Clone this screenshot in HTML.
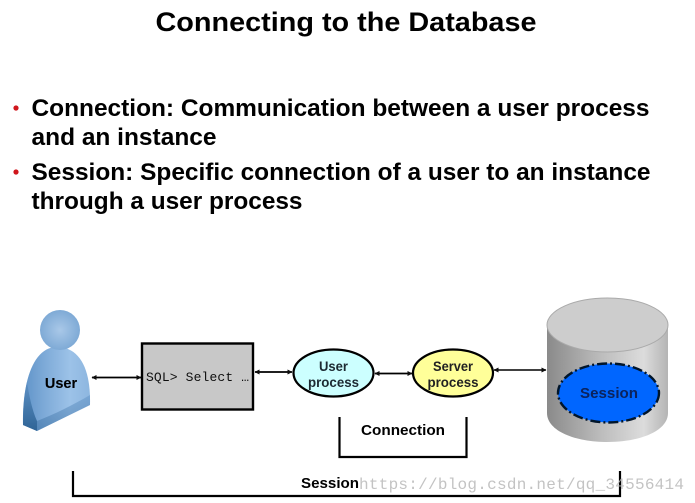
<!DOCTYPE html>
<html><head><meta charset="utf-8"><style>
html,body{margin:0;padding:0;background:#fff;width:695px;height:503px;overflow:hidden}
svg{display:block}
text{font-family:"Liberation Sans",Arial,sans-serif}
</style></head><body>
<svg width="695" height="503" viewBox="0 0 695 503" xmlns="http://www.w3.org/2000/svg">
<defs>
<filter id="b" x="-5%" y="-5%" width="110%" height="110%"><feGaussianBlur stdDeviation="0.3"/></filter>
<radialGradient id="head" cx="0.5" cy="0.5" r="0.6"><stop offset="0" stop-color="#a9c8e8"/><stop offset="1" stop-color="#76a4d2"/></radialGradient>
<linearGradient id="bodyG" x1="0" y1="0" x2="1" y2="0"><stop offset="0" stop-color="#5f93c8"/><stop offset="0.35" stop-color="#80acd9"/><stop offset="0.7" stop-color="#9cc2e8"/><stop offset="1" stop-color="#8db6df"/></linearGradient>
<linearGradient id="edge" x1="0" y1="0" x2="0" y2="1"><stop offset="0" stop-color="#5d90c4"/><stop offset="1" stop-color="#2f6496"/></linearGradient>
<linearGradient id="cyl" x1="0" y1="0" x2="1" y2="0"><stop offset="0" stop-color="#8a8a8a"/><stop offset="0.45" stop-color="#bdbdbd"/><stop offset="0.8" stop-color="#dcdcdc"/><stop offset="1" stop-color="#b4b4b4"/></linearGradient>
<marker id="a" markerWidth="5" markerHeight="6" refX="4.5" refY="3" orient="auto-start-reverse" markerUnits="userSpaceOnUse"><path d="M0,0.5L5,3L0,5.5Z" fill="#111"/></marker>
</defs>
<g filter="url(#b)">
<text x="346" y="31" font-size="27" font-weight="700" text-anchor="middle" textLength="381" lengthAdjust="spacingAndGlyphs" fill="#000">Connecting to the Database</text>
<circle cx="16" cy="108" r="2.6" fill="#d0121b"/>
<circle cx="16" cy="172" r="2.6" fill="#d0121b"/>
<g font-size="24" font-weight="700" fill="#000">
<text x="31.5" y="116" textLength="618" lengthAdjust="spacingAndGlyphs">Connection: Communication between a user process</text>
<text x="31.5" y="145" textLength="185" lengthAdjust="spacingAndGlyphs">and an instance</text>
<text x="31.5" y="180" textLength="619" lengthAdjust="spacingAndGlyphs">Session: Specific connection of a user to an instance</text>
<text x="31.5" y="209" textLength="271" lengthAdjust="spacingAndGlyphs">through a user process</text>
</g>
<!-- user -->
<path d="M23,425 C22,385 32,347 57,347 C78,347 91,366 90,405 L37,431 Z" fill="url(#bodyG)"/>
<path d="M23,425 C23,410 24,395 27,382 C29,395 32,410 37,421 L37,431 Z" fill="url(#edge)"/>
<path d="M37,421 C55,414 73,405 90,395 L90,405 L37,431 Z" fill="url(#edge)" opacity="0.45"/>
<circle cx="60" cy="330" r="20" fill="url(#head)"/>
<text x="61" y="388" font-size="14.5" font-weight="700" text-anchor="middle" fill="#000" stroke="#000" stroke-width="0.1">User</text>
<!-- sql box -->
<rect x="142" y="343.5" width="111" height="66" fill="#c8c8c8" stroke="#000" stroke-width="2.4"/>
<text x="146" y="381" font-size="13" style="font-family:'Liberation Mono',monospace" fill="#111" textLength="103">SQL&gt; Select …</text>
<!-- connectors -->
<g stroke="#000" fill="none">
<line x1="92" y1="377.5" x2="141" y2="377.5" stroke-width="1.8" marker-start="url(#a)" marker-end="url(#a)"/>
<line x1="255" y1="372" x2="292" y2="372" stroke-width="1.8" marker-start="url(#a)" marker-end="url(#a)"/>
<line x1="375" y1="373.5" x2="412" y2="373.5" stroke-width="1.8" marker-start="url(#a)" marker-end="url(#a)"/>
<line x1="494" y1="370" x2="546" y2="370" stroke-width="1.5" marker-start="url(#a)" marker-end="url(#a)"/>
</g>
<!-- processes -->
<ellipse cx="333.5" cy="373" rx="40" ry="23.5" fill="#ccffff" stroke="#000" stroke-width="2.2"/>
<text x="333.5" y="371" font-size="13.5" font-weight="700" text-anchor="middle" fill="#1c2a33" textLength="29" lengthAdjust="spacingAndGlyphs">User</text>
<text x="333.5" y="387" font-size="13.5" font-weight="700" text-anchor="middle" fill="#1c2a33" textLength="51" lengthAdjust="spacingAndGlyphs">process</text>
<ellipse cx="453" cy="373" rx="40" ry="23.5" fill="#ffff99" stroke="#000" stroke-width="2.2"/>
<text x="453" y="371" font-size="13.5" font-weight="700" text-anchor="middle" fill="#222" textLength="40" lengthAdjust="spacingAndGlyphs">Server</text>
<text x="453" y="387" font-size="13.5" font-weight="700" text-anchor="middle" fill="#222" textLength="51" lengthAdjust="spacingAndGlyphs">process</text>
<!-- database -->
<path d="M547,325 V413 C547,431 575,442 607.5,442 C640,442 668,431 668,413 V325 Z" fill="url(#cyl)"/>
<ellipse cx="607.5" cy="325" rx="60.5" ry="27" fill="#cdcdcd" stroke="#aaa" stroke-width="1"/>
<ellipse cx="608.5" cy="393" rx="50.5" ry="29.5" fill="#0066ff" stroke="#06122a" stroke-width="2.4" stroke-dasharray="10 3 2 3"/>
<text x="609" y="398" font-size="14.5" font-weight="700" text-anchor="middle" fill="#08245c" textLength="58" lengthAdjust="spacingAndGlyphs">Session</text>
<!-- brackets -->
<path d="M339.5,417 V457 H466.5 V417" fill="none" stroke="#000" stroke-width="2.2"/>
<text x="403" y="435" font-size="14.5" font-weight="700" text-anchor="middle" fill="#000" textLength="84" lengthAdjust="spacingAndGlyphs">Connection</text>
<path d="M73,471 V496 H620 V471" fill="none" stroke="#000" stroke-width="2.2"/>
<text x="330" y="488" font-size="14.5" font-weight="700" text-anchor="middle" fill="#000" textLength="58" lengthAdjust="spacingAndGlyphs">Session</text>
<text x="359" y="489" font-size="16" style="font-family:'Liberation Mono',monospace" fill="#b9b9b9" fill-opacity="0.85" textLength="325">https://blog.csdn.net/qq_34556414</text>
</g>
</svg>
</body></html>
